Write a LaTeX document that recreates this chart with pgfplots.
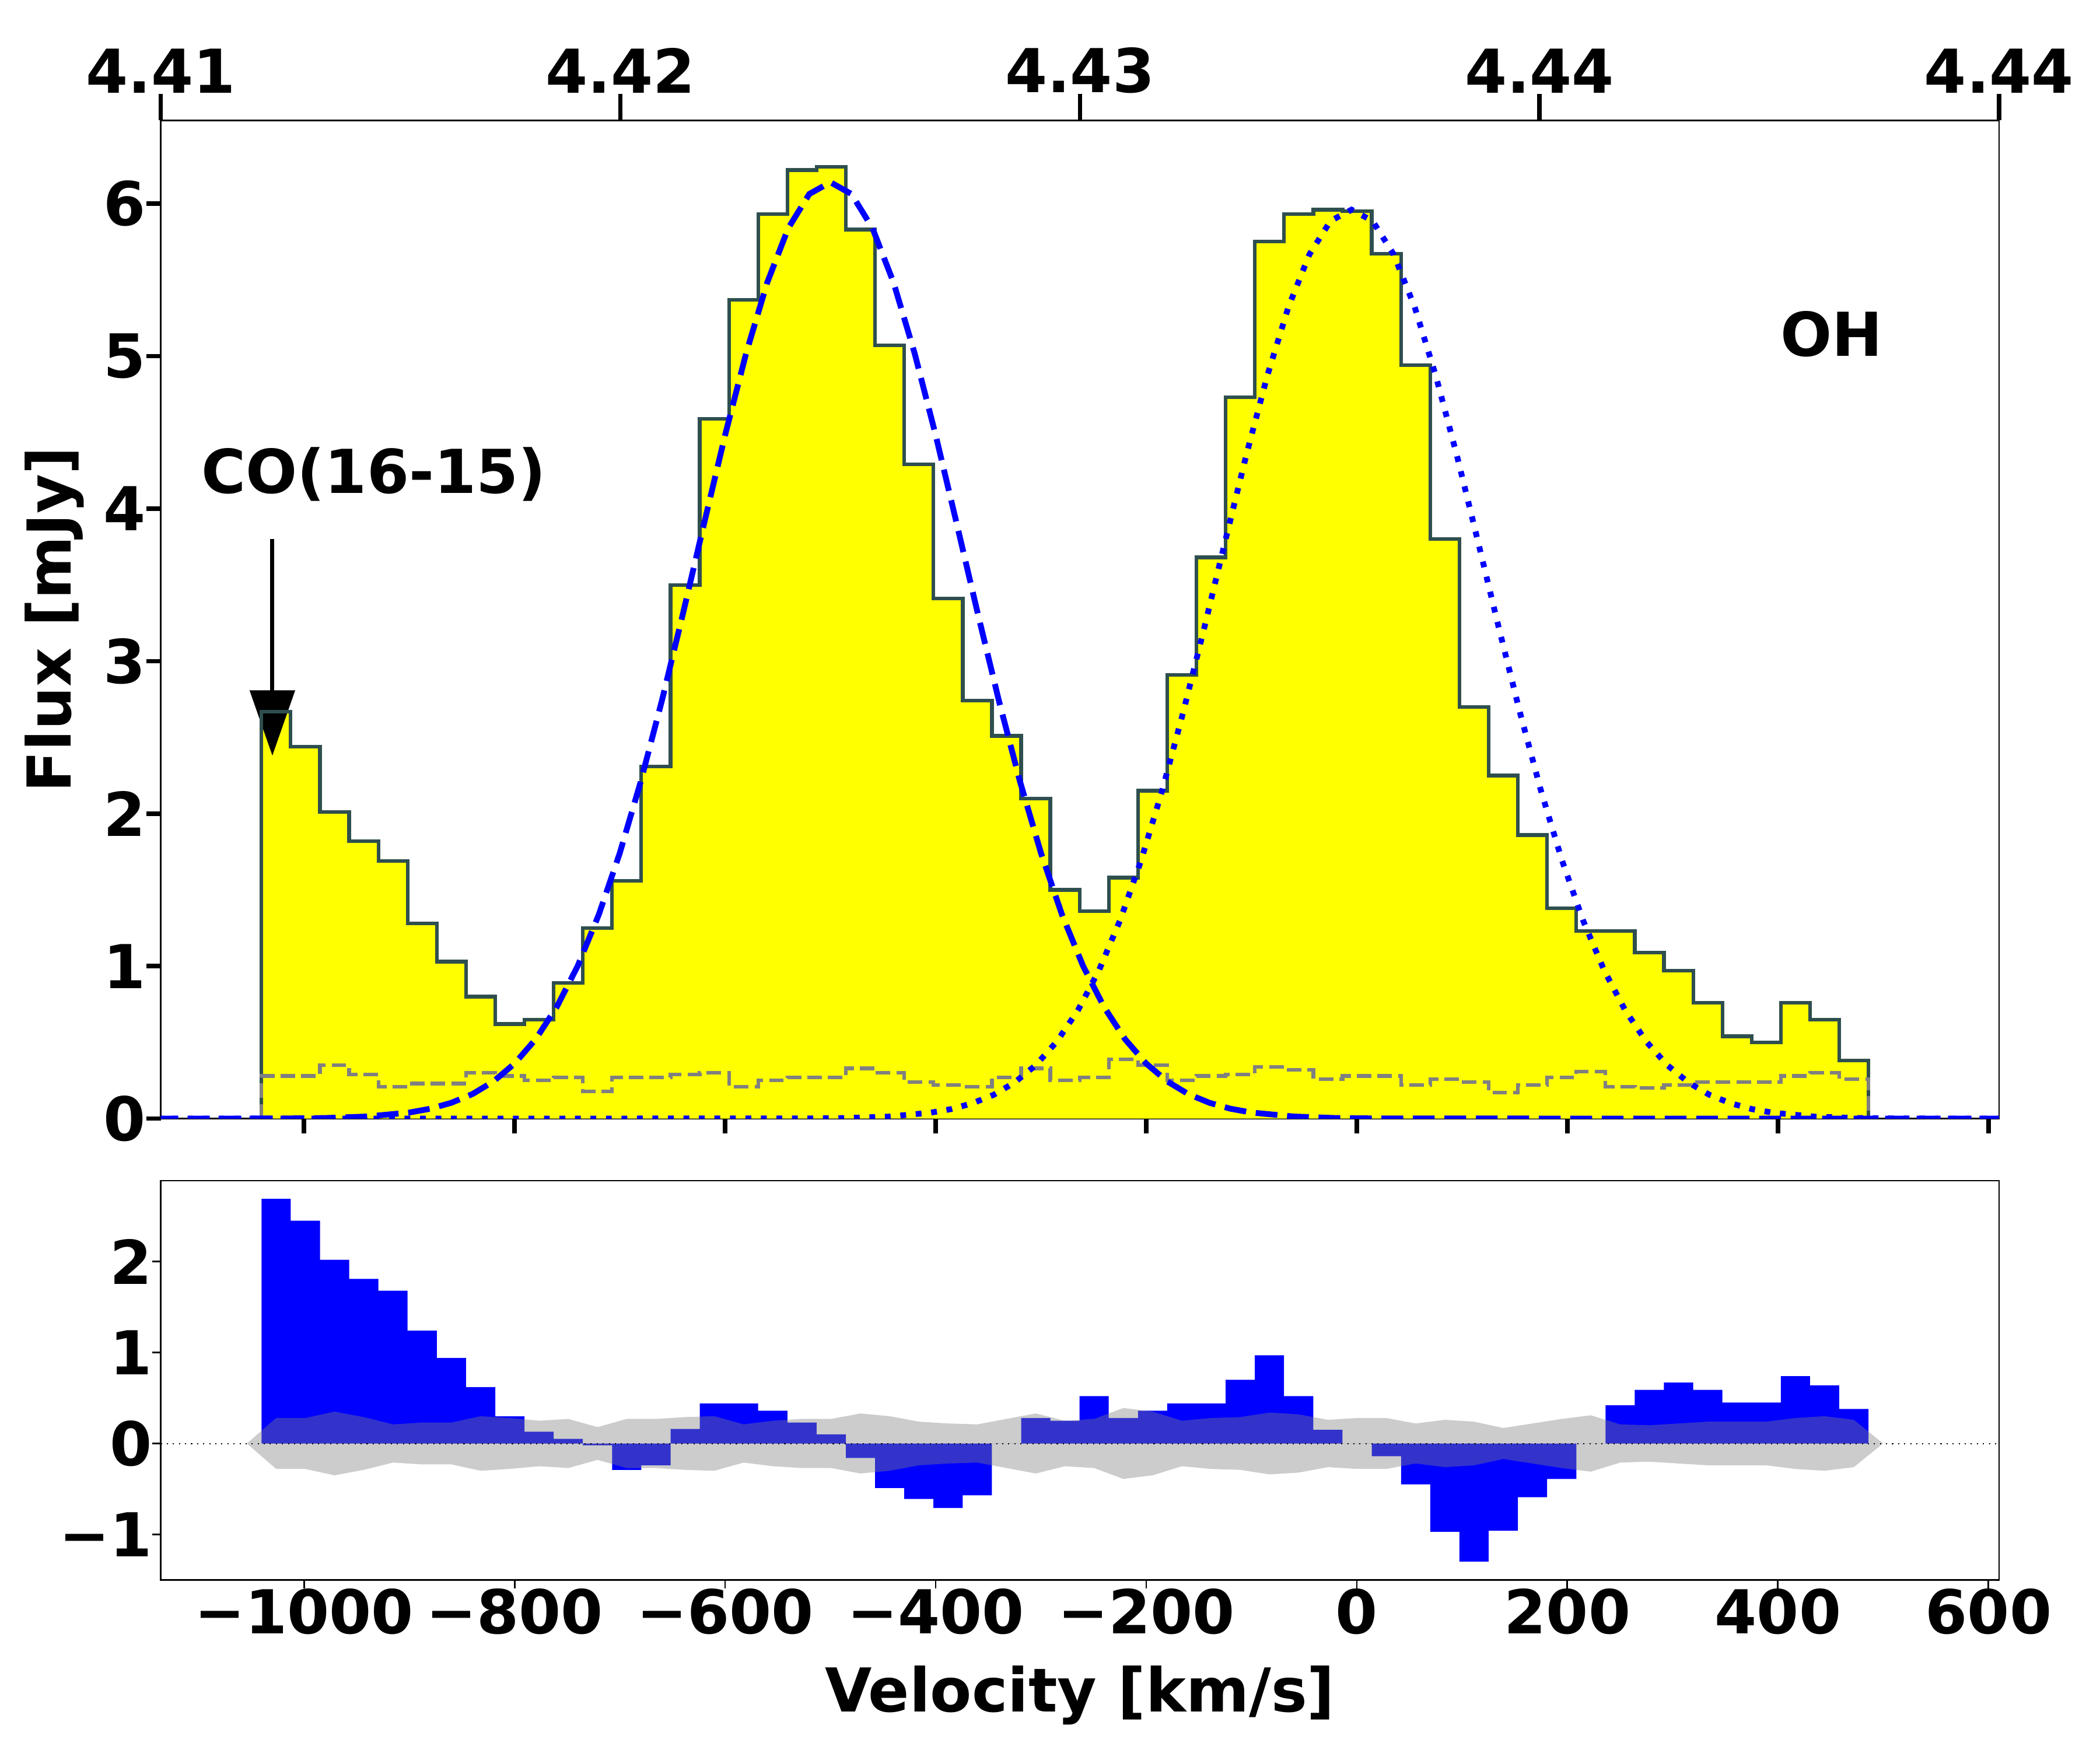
\documentclass[border=0pt]{standalone}
\usepackage{fontspec}
\setmainfont{DejaVu Sans}
\usepackage{pgfplots}
\usepackage{pgfplotstable}
\pgfplotsset{compat=1.18}
\usetikzlibrary{arrows.meta}

\definecolor{dslate}{RGB}{47,79,79}
\definecolor{yel}{RGB}{255,255,0}
\definecolor{pblue}{RGB}{0,0,255}
\definecolor{mgray}{RGB}{128,128,128}
\newcommand{\lbl}{\fontsize{25}{30}\selectfont\bfseries}

% bin left edges: flux, error, residual (step data)
\pgfplotstableread{
v f err r
-1040.3 0 0 0
-1040.3 2.67 0.28 2.69
-1012.6 2.44 0.28 2.45
-984.8 2.01 0.35 2.02
-957.1 1.82 0.29 1.81
-929.3 1.69 0.21 1.68
-901.6 1.28 0.23 1.24
-873.8 1.03 0.23 0.94
-846.1 0.80 0.30 0.62
-818.3 0.62 0.28 0.30
-790.6 0.65 0.25 0.13
-762.8 0.89 0.27 0.05
-735.1 1.25 0.18 -0.02
-707.3 1.56 0.27 -0.29
-679.6 2.31 0.27 -0.24
-651.8 3.50 0.29 0.16
-624.1 4.59 0.30 0.44
-596.3 5.37 0.21 0.44
-568.6 5.93 0.25 0.36
-540.8 6.22 0.27 0.23
-513.1 6.24 0.27 0.10
-485.3 5.83 0.33 -0.16
-457.6 5.07 0.30 -0.49
-429.8 4.29 0.24 -0.61
-402.1 3.41 0.22 -0.71
-374.3 2.74 0.21 -0.57
-346.6 2.51 0.27 0.00
-318.8 2.10 0.33 0.28
-291.1 1.50 0.25 0.25
-263.3 1.36 0.27 0.52
-235.6 1.58 0.39 0.28
-207.8 2.15 0.35 0.36
-180.1 2.91 0.25 0.44
-152.3 3.68 0.28 0.44
-124.6 4.73 0.29 0.70
-96.8 5.75 0.34 0.97
-69.1 5.93 0.32 0.52
-41.3 5.96 0.26 0.15
-13.6 5.95 0.28 0.00
14.2 5.67 0.28 -0.14
42.0 4.94 0.22 -0.45
69.7 3.80 0.26 -0.97
97.5 2.70 0.24 -1.30
125.2 2.25 0.17 -0.96
153.0 1.86 0.22 -0.59
180.7 1.38 0.27 -0.39
208.5 1.23 0.31 0.00
236.2 1.23 0.21 0.42
264.0 1.09 0.20 0.59
291.7 0.97 0.22 0.67
319.5 0.76 0.24 0.59
347.2 0.54 0.24 0.45
375.0 0.50 0.24 0.45
402.7 0.76 0.28 0.74
430.5 0.65 0.30 0.64
458.2 0.38 0.26 0.38
486.0 0.38 0.26 0.38
486.0 0 0 0
}\spec

% +/- error band at bin centres (outline of the polygon)
\pgfplotstableread{
c e
-1054.2 0
-1026.4 0.28
-998.7 0.28
-970.9 0.35
-943.2 0.29
-915.4 0.21
-887.7 0.23
-859.9 0.23
-832.2 0.30
-804.4 0.28
-776.7 0.25
-748.9 0.27
-721.2 0.18
-693.4 0.27
-665.7 0.27
-637.9 0.29
-610.2 0.30
-582.4 0.21
-554.7 0.25
-526.9 0.27
-499.2 0.27
-471.4 0.33
-443.7 0.30
-415.9 0.24
-388.2 0.22
-360.4 0.21
-332.7 0.27
-304.9 0.33
-277.2 0.25
-249.4 0.27
-221.7 0.39
-193.9 0.35
-166.2 0.25
-138.4 0.28
-110.7 0.29
-82.9 0.34
-55.2 0.32
-27.4 0.26
0.3 0.28
28.1 0.28
55.8 0.22
83.6 0.26
111.3 0.24
139.1 0.17
166.8 0.22
194.6 0.27
222.3 0.31
250.1 0.21
277.8 0.20
305.6 0.22
333.3 0.24
361.1 0.24
388.8 0.24
416.6 0.28
444.3 0.30
472.1 0.26
499.8 0
472.1 -0.26
444.3 -0.30
416.6 -0.28
388.8 -0.24
361.1 -0.24
333.3 -0.24
305.6 -0.22
277.8 -0.20
250.1 -0.21
222.3 -0.31
194.6 -0.27
166.8 -0.22
139.1 -0.17
111.3 -0.24
83.6 -0.26
55.8 -0.22
28.1 -0.28
0.3 -0.28
-27.4 -0.26
-55.2 -0.32
-82.9 -0.34
-110.7 -0.29
-138.4 -0.28
-166.2 -0.25
-193.9 -0.35
-221.7 -0.39
-249.4 -0.27
-277.2 -0.25
-304.9 -0.33
-332.7 -0.27
-360.4 -0.21
-388.2 -0.22
-415.9 -0.24
-443.7 -0.30
-471.4 -0.33
-499.2 -0.27
-526.9 -0.27
-554.7 -0.25
-582.4 -0.21
-610.2 -0.30
-637.9 -0.29
-665.7 -0.27
-693.4 -0.27
-721.2 -0.18
-748.9 -0.27
-776.7 -0.25
-804.4 -0.28
-832.2 -0.30
-859.9 -0.23
-887.7 -0.23
-915.4 -0.21
-943.2 -0.29
-970.9 -0.35
-998.7 -0.28
-1026.4 -0.28
}\band

\begin{document}
\begin{tikzpicture}

\pgfplotsset{
  panel/.style={
    at={(0,0)}, anchor=south west, scale only axis, width=759.2pt,
    xmin=-1136, xmax=610, clip=true,
    tick label style={font=\lbl, inner sep=0pt},
    label style={font=\lbl},
    axis line style={line width=0.6pt},
  }
}

% ---- upper panel: spectrum
\begin{axis}[panel, name=top, height=412.3pt,
  ymin=0, ymax=6.546,
  xtick={-1000,-800,...,600}, xticklabels={},
  ytick={0,1,...,6}, yticklabels={0,1,2,3,4,5,6},
  tick pos=left, tick align=outside, major tick length=6pt,
  tick style={line width=1.8pt, black},
  ylabel={Flux [mJy]},
  ylabel style={at={(axis description cs:-0.058,0.5)}, anchor=center},
]
\addplot[fill=yel, draw=none, const plot] table[x=v, y=f] {\spec};
\draw[-{Triangle[width=18.4pt,length=27pt]}, line width=1.7pt]
  (axis cs:-1030,3.8) -- (axis cs:-1030,2.38);
\addplot[draw=dslate, line width=1.5pt, const plot] table[x=v, y=f] {\spec};
\addplot[draw=mgray, line width=1.5pt, dash pattern=on 6pt off 2.5pt, const plot] table[x=v, y=err] {\spec};
\addplot[pblue, line width=2.4pt, dash pattern=on 9pt off 4pt] coordinates {
(-1140,0) (-1020,0.001) (-980,0.004) (-940,0.014) (-900,0.040) (-880,0.065)
(-860,0.104) (-840,0.161) (-820,0.244) (-800,0.361) (-780,0.520) (-760,0.731)
(-740,1.001) (-720,1.337) (-700,1.742) (-680,2.213) (-660,2.742) (-640,3.312)
(-620,3.901) (-600,4.482) (-580,5.019) (-560,5.482) (-540,5.839) (-520,6.063)
(-500,6.140) (-480,6.063) (-460,5.839) (-440,5.482) (-420,5.019) (-400,4.482)
(-380,3.901) (-360,3.312) (-340,2.742) (-320,2.213) (-300,1.742) (-280,1.337)
(-260,1.001) (-240,0.731) (-220,0.520) (-200,0.361) (-180,0.244) (-160,0.161)
(-140,0.104) (-120,0.065) (-100,0.040) (-60,0.014) (-20,0.004) (20,0.001) (610,0)};
\addplot[pblue, line width=2.4pt, dash pattern=on 2.4pt off 4pt] coordinates {
(-1140,0) (-525,0.001) (-485,0.004) (-445,0.013) (-405,0.039) (-385,0.063)
(-365,0.101) (-345,0.156) (-325,0.237) (-305,0.350) (-285,0.505) (-265,0.709)
(-245,0.971) (-225,1.298) (-205,1.691) (-185,2.148) (-165,2.662) (-145,3.215)
(-125,3.787) (-105,4.350) (-85,4.872) (-65,5.321) (-45,5.667) (-25,5.886)
(-5,5.960) (15,5.886) (35,5.667) (55,5.321) (75,4.872) (95,4.350) (115,3.787)
(135,3.215) (155,2.662) (175,2.148) (195,1.691) (215,1.298) (235,0.971)
(255,0.709) (275,0.505) (295,0.350) (315,0.237) (335,0.156) (355,0.101)
(375,0.063) (395,0.039) (435,0.013) (475,0.004) (515,0.001) (610,0)};
\node[font=\lbl, anchor=base west, inner sep=0pt] at (axis cs:-1098,4.1) {CO(16-15)};
\node[font=\lbl, anchor=base west, inner sep=0pt] at (axis cs:402,5.0) {OH};
\end{axis}

% ---- upper panel: wavelength ticks on top
\begin{axis}[panel, height=412.3pt, ymin=0, ymax=1,
  axis x line*=top, axis y line=none,
  xtick={-1136,-699.5,-263,173.5,610},
  xticklabels={4.41,4.42,4.43,4.44,4.44},
  tick align=outside, major tick length=11pt,
  tick style={line width=1.8pt, black},
]
\addplot[draw=none] coordinates {(0,0.5)};
\end{axis}

% ---- lower panel: residuals
\begin{axis}[panel, at={(0,-25.6pt)}, anchor=north west, height=164.9pt,
  ymin=-1.5, ymax=2.89,
  xtick={-1000,-800,...,600},
  xticklabels={−1000,−800,−600,−400,−200,0,200,400,600},
  ytick={-1,0,1,2}, yticklabels={−1,0,1,2},
  tick pos=left, tick align=outside, major tick length=3.4pt,
  tick style={line width=0.7pt, black},
  xlabel={Velocity [km/s]},
  xlabel style={at={(axis description cs:0.5,-0.331)}, anchor=base},
]
\addplot[fill=pblue, draw=none, const plot] table[x=v, y=r] {\spec};
\addplot[fill=mgray, fill opacity=0.4, draw=none] table[x=c, y=e] {\band};
\addplot[black, dotted, line width=0.5pt] coordinates {(-1136,0) (610,0)};
\end{axis}

\useasboundingbox (-66.4pt,-260.7pt) rectangle (800.9pt,462.0pt);
\end{tikzpicture}
\end{document}
